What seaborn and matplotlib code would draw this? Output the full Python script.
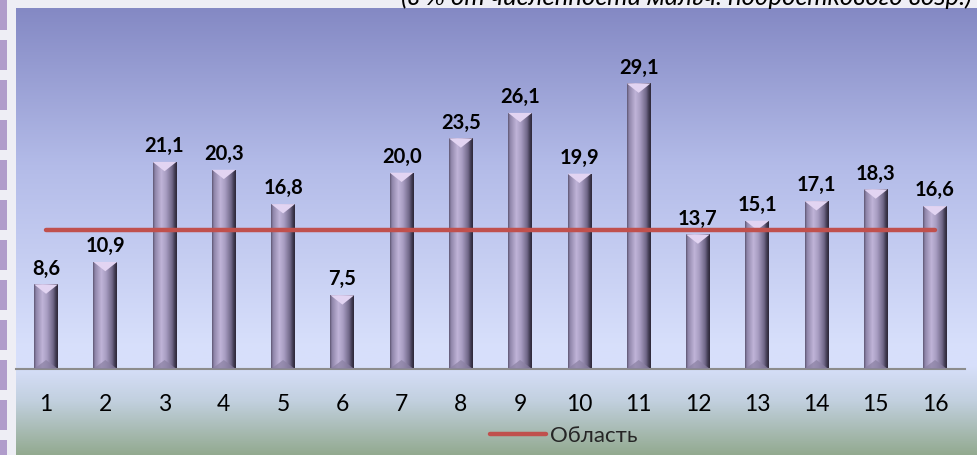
import numpy as np
import pandas as pd
import matplotlib
matplotlib.use("Agg")
import matplotlib.pyplot as plt
from matplotlib.colors import LinearSegmentedColormap
from matplotlib.lines import Line2D
from matplotlib.patches import Rectangle, Polygon
import seaborn as sns

# ---- data ----
categories = [str(i) for i in range(1, 17)]
values = [8.6, 10.9, 21.1, 20.3, 16.8, 7.5, 20.0, 23.5, 26.1, 19.9, 29.1, 13.7, 15.1, 17.1, 18.3, 16.6]
region_value = 14.2
region_label = "Область"
top_text = "(в % от численности мальч. подросткового возр.)"

sns.set_theme(style="white")
plt.rcParams['font.family'] = ['Lato', 'DejaVu Sans']

W, H = 977, 455
fig = plt.figure(figsize=(W / 100, H / 100), dpi=100)
fig.patch.set_facecolor("#eeeef5")

def fx(px):
    return px / W

def fy(py):
    return 1 - py / H

# left dashed strip
strip = fig.add_axes([0, 0, fx(8), 1])
strip.set_xlim(0, 1); strip.set_ylim(H, 0); strip.axis("off")
for y0 in range(0, H, 40):
    strip.add_patch(Rectangle((0, y0), 0.9, 30, color="#b09ccb", lw=0))

# gradient background panel
bg = fig.add_axes([fx(16), 0, 1 - fx(16), fy(8)])
bg.axis("off")
cmap_bg = LinearSegmentedColormap.from_list(
    "bg", [(0.0, "#8489c4"), (0.35, "#b3bbe8"), (0.75, "#d7dffb"),
           (0.80, "#d8e0fb"), (0.88, "#c2d0df"), (1.0, "#93aa90")])
grad = np.linspace(0, 1, 256).reshape(-1, 1)
bg.imshow(grad, aspect="auto", cmap=cmap_bg, extent=[0, 1, 0, 1], origin="upper")
bg.set_xlim(0, 1); bg.set_ylim(0, 1)

# main axes
ax_left, ax_right = 16.4, 964.6
ax_top, ax_bottom = 8, 368.8
ax = fig.add_axes([fx(ax_left), fy(ax_bottom), fx(ax_right - ax_left), fy(ax_top) - fy(ax_bottom)])
ax.patch.set_alpha(0)

df = pd.DataFrame({"cat": categories, "val": values})
sns.barplot(data=df, x="cat", y="val", ax=ax, width=0.4, color="#9d92b8",
            saturation=1, edgecolor="none")

# bevel gradient on each bar
cmap_bar = LinearSegmentedColormap.from_list(
    "bar", [(0.0, "#5d5672"), (0.08, "#8e84a8"), (0.35, "#c0b4d8"),
            (0.55, "#a89dc2"), (0.8, "#716889"), (0.92, "#3f3950"), (1.0, "#2d2838")])
hgrad = np.linspace(0, 1, 128).reshape(1, -1)
for p in list(ax.patches):
    x0, y0 = p.get_x(), p.get_y()
    w, h = p.get_width(), p.get_height()
    im = ax.imshow(hgrad, aspect="auto", cmap=cmap_bar,
                   extent=[x0, x0 + w, y0, y0 + h], zorder=2)
    im.set_clip_path(p)
    tri_h = 0.95
    ax.add_patch(Polygon([[x0, y0 + h], [x0 + w, y0 + h], [x0 + w / 2, y0 + h - tri_h]],
                         closed=True, color="#e2d4f2", lw=0, zorder=3))
    ax.add_patch(Polygon([[x0, y0], [x0 + w, y0], [x0 + w / 2, y0 + 0.9]],
                         closed=True, color="#8a80a2", lw=0, zorder=3, alpha=0.7))
    ax.text(x0 + w / 2, y0 + h + 0.6, f"{h:.1f}".replace(".", ","),
            ha="center", va="bottom", fontsize=14.5, fontweight="bold", color="black", zorder=5)

# region line
line_df = pd.DataFrame({"x": np.arange(len(categories)), "y": [region_value] * len(categories)})
sns.lineplot(data=line_df, x="x", y="y", ax=ax, color="#c0504d", lw=3.2,
             solid_capstyle="round", zorder=4, legend=False)

ax.set_xlim(-0.5, len(categories) - 0.5)
ax.set_ylim(0, 36.8)
ax.set_xlabel(""); ax.set_ylabel("")
ax.set_yticks([])
for s in ["top", "right", "left"]:
    ax.spines[s].set_visible(False)
ax.spines["bottom"].set_color("#8c8c8c")
ax.spines["bottom"].set_linewidth(1.5)
ax.set_xticks(np.arange(len(categories)))
ax.set_xticklabels(categories, fontsize=16.5, color="black")
ax.set_xticks(np.arange(-0.5, len(categories)), minor=True)
ax.tick_params(axis="x", which="major", length=0, pad=18)
ax.tick_params(axis="x", which="minor", length=7, width=1.5, color="#8c8c8c", direction="out")

# legend
handle = Line2D([0], [0], color="#c0504d", lw=3.2, solid_capstyle="round")
fig.legend([handle], [region_label], loc="center", bbox_to_anchor=(fx(564), fy(436)),
           frameon=False, fontsize=16, handlelength=2.5, handletextpad=0.2,
           borderpad=0, borderaxespad=0)

# cut-off top text
fig.text(fx(972), fy(5), top_text, ha="right", va="baseline", fontsize=18.5,
         style="italic", color="black")

fig.savefig("out.png", dpi=100)
